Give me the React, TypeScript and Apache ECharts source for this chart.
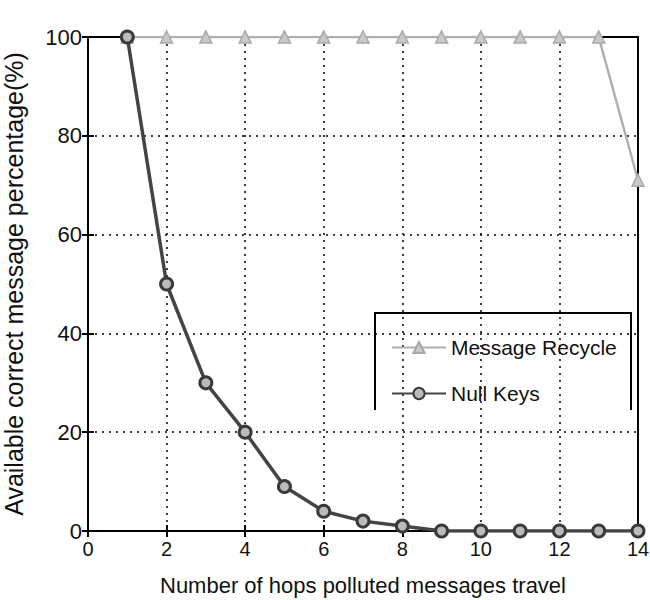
import React, { useEffect, useRef } from "react";
import * as echarts from "echarts";

const hops = [1, 2, 3, 4, 5, 6, 7, 8, 9, 10, 11, 12, 13, 14];
const messageRecycle = [100, 100, 100, 100, 100, 100, 100, 100, 100, 100, 100, 100, 100, 71];
const nullKeys = [100, 50, 30, 20, 9, 4, 2, 1, 0, 0, 0, 0, 0, 0];
const seriesNames = ["Message Recycle", "Null Keys"];
const xTitle = "Number of hops polluted messages travel";
const yTitle = "Available correct message percentage(%)";

export default function App() {
  const ref = useRef<HTMLDivElement>(null);
  useEffect(() => {
    const chart = echarts.init(ref.current!, null, { renderer: "svg" });
    const font = "Liberation Sans, Arial, sans-serif";
    const grid = { left: 88, right: 12, top: 37, bottom: 69 };
    const splitLine = { show: true, lineStyle: { color: "#000", type: [2, 5] as any, width: 1.5 } };
    chart.setOption({
      animation: false,
      backgroundColor: "#fff",
      grid: { ...grid, show: true, borderColor: "#000", borderWidth: 2, containLabel: false, outerBoundsMode: "none" },
      legend: {
        orient: "vertical",
        left: 386,
        top: 332,
        itemWidth: 54,
        itemHeight: 14,
        itemGap: 25,
        itemStyle: {},
        textStyle: { fontFamily: font, fontSize: 21, color: "#111" },
        data: seriesNames,
      },
      graphic: [
        {
          type: "polyline",
          shape: { points: [[375, 410], [375, 313], [631, 313], [631, 410]] },
          style: { stroke: "#000", lineWidth: 2, fill: "none" },
          z: 100,
        },
      ],
      xAxis: [
        {
          type: "value",
          min: 0,
          max: 14,
          interval: 2,
          name: xTitle,
          nameLocation: "middle",
          nameGap: 43,
          nameTextStyle: { fontFamily: font, fontSize: 22, color: "#111" },
          axisLine: { show: true, lineStyle: { color: "#000", width: 2 } },
          axisTick: { show: true, inside: true, length: 6, lineStyle: { color: "#000", width: 2 } },
          axisLabel: { fontFamily: font, fontSize: 20, color: "#111", margin: 8 },
          splitLine,
        },
        {
          type: "value",
          position: "top",
          min: 0,
          max: 14,
          interval: 2,
          axisLine: { show: false },
          axisTick: { show: true, inside: true, length: 6, lineStyle: { color: "#000", width: 2 } },
          axisLabel: { show: false },
          splitLine: { show: false },
        },
      ],
      yAxis: [
        {
          type: "value",
          min: 0,
          max: 100,
          interval: 20,
          name: yTitle,
          nameLocation: "middle",
          nameGap: 62,
          nameTextStyle: { fontFamily: font, fontSize: 25, color: "#111" },
          axisLine: { show: true, lineStyle: { color: "#000", width: 2 } },
          axisTick: { show: true, inside: true, length: 6, lineStyle: { color: "#000", width: 2 } },
          axisLabel: { fontFamily: font, fontSize: 22, color: "#111", margin: 6 },
          splitLine,
        },
        {
          type: "value",
          position: "right",
          min: 0,
          max: 100,
          interval: 20,
          axisLine: { show: false },
          axisTick: { show: true, inside: true, length: 6, lineStyle: { color: "#000", width: 2 } },
          axisLabel: { show: false },
          splitLine: { show: false },
        },
      ],
      series: [
        {
          name: seriesNames[0],
          type: "line",
          data: hops.map((h, i) => [h, messageRecycle[i]]),
          symbol: "triangle",
          symbolSize: 12,
          lineStyle: { color: "#b0b0b0", width: 2.5 },
          itemStyle: { color: "#c8c8c8", borderColor: "#a8a8a8", borderWidth: 1.5 },
          z: 3,
        },
        {
          name: seriesNames[1],
          type: "line",
          data: hops.map((h, i) => [h, nullKeys[i]]),
          symbol: "circle",
          symbolSize: 12,
          lineStyle: { color: "#444", width: 3.5 },
          itemStyle: { color: "#bbb", borderColor: "#3a3a3a", borderWidth: 3 },
          z: 4,
        },
      ],
    });
    return () => chart.dispose();
  }, []);
  return <div ref={ref} style={{ position: "absolute", left: 0, top: 0, width: 650, height: 600 }} />;
}
